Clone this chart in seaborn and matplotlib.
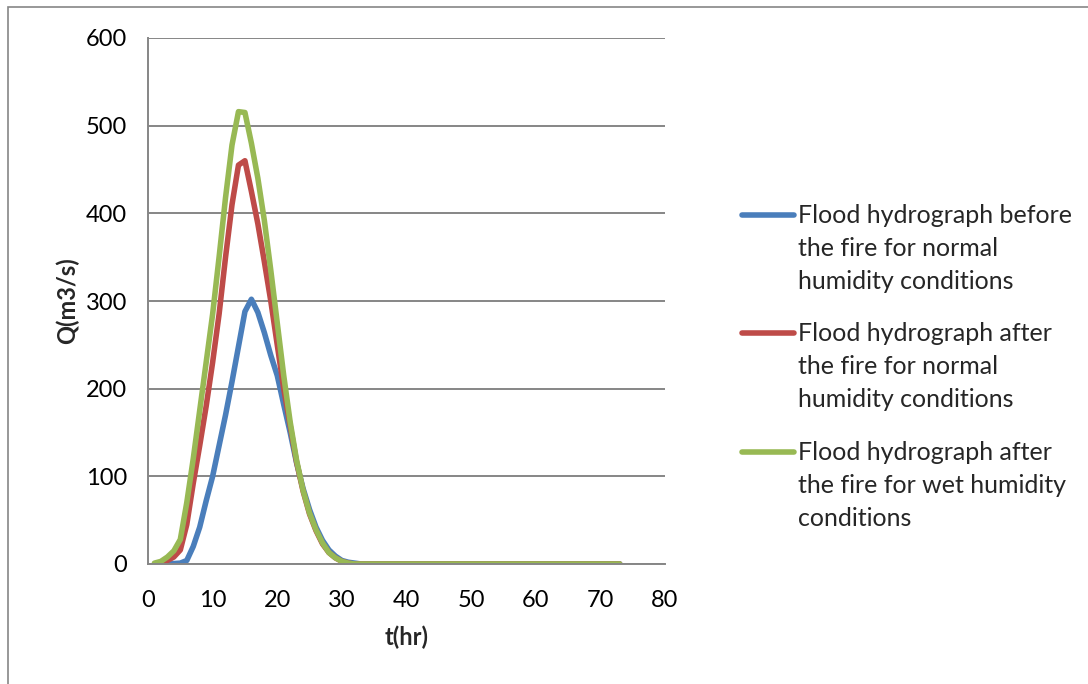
import numpy as np
import pandas as pd
import seaborn as sns
import matplotlib
matplotlib.use("Agg")
import matplotlib.pyplot as plt
from matplotlib.lines import Line2D
from matplotlib.patches import Rectangle

# ---- data (hourly) ----
t = list(range(1, 74))

q_before_head = [0, 0, 0, 0.5, 1, 4, 20, 42, 72, 100, 135, 170, 208, 248, 288, 302,
                 287, 264, 238, 215, 182, 150, 115, 86, 62, 42, 27, 16, 9, 4, 2, 1]
q_after_normal_head = [0, 1, 4, 8, 16, 45, 92, 135, 180, 230, 285, 350, 410, 455, 460, 425,
                       388, 345, 300, 250, 200, 158, 116, 83, 57, 38, 23, 13, 7, 3, 1, 0]
q_after_wet_head = [1, 3, 8, 15, 28, 70, 120, 175, 230, 285, 350, 418, 478, 516, 515, 480,
                    440, 392, 335, 275, 215, 162, 118, 84, 58, 39, 24, 13, 7, 3, 1, 0]

n_tail = len(t) - len(q_before_head)
q_before = q_before_head + [0] * n_tail
q_after_normal = q_after_normal_head + [0] * n_tail
q_after_wet = q_after_wet_head + [0] * n_tail

labels = [
    "Flood hydrograph before\nthe fire for normal\nhumidity conditions",
    "Flood hydrograph after\nthe fire for normal\nhumidity conditions",
    "Flood hydrograph after\nthe fire for wet humidity\nconditions",
]
colors = ["#4A7EBB", "#BE4B48", "#98B954"]

x_ticks = list(range(0, 81, 10))
y_ticks = list(range(0, 601, 100))

df = pd.concat([
    pd.DataFrame({"t": t, "Q": q_before, "series": labels[0]}),
    pd.DataFrame({"t": t, "Q": q_after_normal, "series": labels[1]}),
    pd.DataFrame({"t": t, "Q": q_after_wet, "series": labels[2]}),
])

sns.set_style("white")
plt.rcParams["font.family"] = ["Lato", "DejaVu Sans"]
FS = 17
LFS = 18

fig = plt.figure(figsize=(10.88, 6.84), dpi=100)
ax = fig.add_axes([148 / 1088, 1 - 564 / 684, (665 - 148) / 1088, (564 - 38) / 684])

sns.lineplot(data=df, x="t", y="Q", hue="series", palette=colors, linewidth=4.0,
             legend=False, ax=ax, sort=False)
for ln in ax.get_lines():
    ln.set_solid_capstyle("round")
    ln.set_solid_joinstyle("round")

ax.set_xlim(0, 80)
ax.set_ylim(0, 600)
ax.set_xticks(x_ticks)
ax.set_yticks(y_ticks)
ax.tick_params(axis="both", length=0, labelsize=FS, colors="black")
ax.tick_params(axis="y", pad=15)
ax.tick_params(axis="x", pad=19)
ax.grid(axis="y", color="#868686", linewidth=1.4)
ax.set_axisbelow(True)
for s in ["top", "right"]:
    ax.spines[s].set_visible(False)
for s in ["left", "bottom"]:
    ax.spines[s].set_color("#868686")
    ax.spines[s].set_linewidth(1.4)
ax.set_xlabel("t(hr)", fontsize=FS, fontweight="bold", labelpad=10)
ax.set_ylabel("Q(m3/s)", fontsize=FS, fontweight="bold", labelpad=5)

# legend (manual, handle aligned with first text line)
leg_y = [215, 333, 452]
for lab, col, yy in zip(labels, colors, leg_y):
    yf = 1 - yy / 684
    fig.add_artist(Line2D([742 / 1088, 794 / 1088], [yf, yf], color=col, linewidth=4.0,
                          solid_capstyle="round"))
    fig.text(798 / 1088, 1 - (yy - 11) / 684, lab, fontsize=LFS, va="top", ha="left",
             linespacing=1.52)

# outer frame
fig.add_artist(Rectangle((8 / 1088, -0.1), 1.2, 1 - 7 / 684 + 0.1, fill=False,
                         edgecolor="#868686", linewidth=1.2, transform=fig.transFigure))

fig.savefig("out.png", dpi=100)
